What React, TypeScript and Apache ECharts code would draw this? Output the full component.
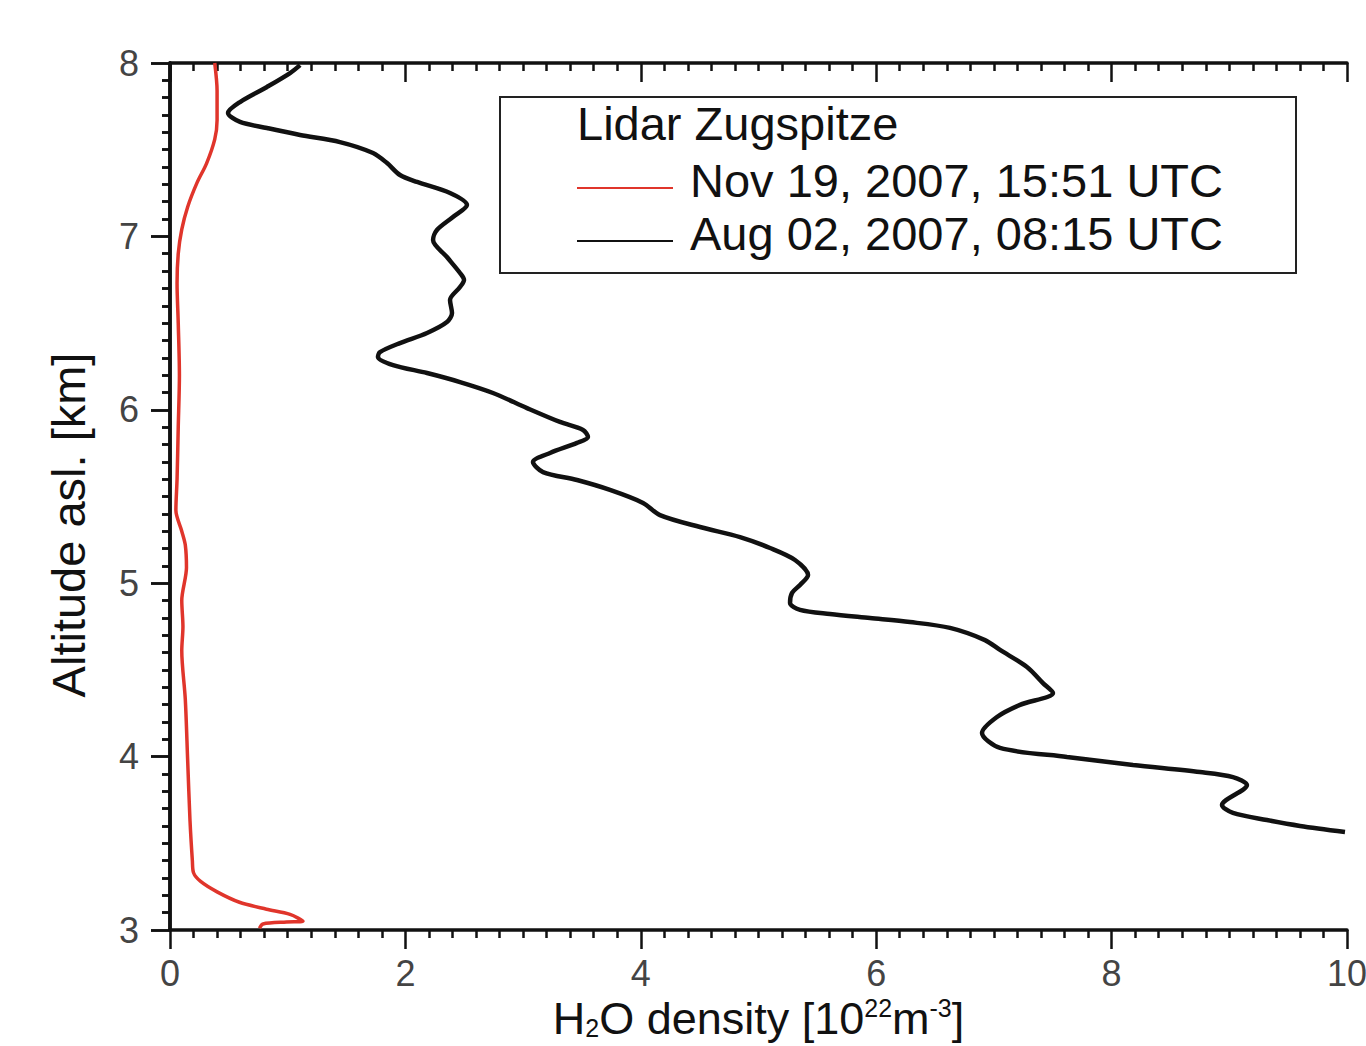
import React, { useEffect, useRef } from "react";
import * as echarts from "echarts";

// H2O density [10^22 m^-3] vs altitude asl [km]
const augDensity = [
  1.105, 1.02, 0.824, 0.595, 0.493, 0.595, 0.824, 1.105, 1.444, 1.725, 1.844, 1.954, 2.099, 2.379, 2.523,
  2.404, 2.268, 2.235, 2.353, 2.464, 2.498, 2.464, 2.379, 2.396, 2.353, 2.184, 1.954, 1.784, 1.767, 1.895,
  2.184, 2.464, 2.744, 3.033, 3.313, 3.509, 3.551, 3.458, 3.229, 3.084, 3.169, 3.458, 3.738, 4.019, 4.163,
  4.503, 4.843, 5.098, 5.31, 5.421, 5.353, 5.285, 5.268, 5.353, 5.607, 5.947, 6.287, 6.627, 6.924, 7.052,
  7.281, 7.417, 7.502, 7.222, 7.026, 6.899, 7.052, 7.621, 8.182, 8.751, 9.031, 9.15, 8.938, 9.031, 9.32,
  9.601, 9.983,
];
const augAltitude = [
  7.988, 7.942, 7.862, 7.775, 7.712, 7.66, 7.625, 7.585, 7.544, 7.481, 7.423, 7.354, 7.314, 7.25, 7.181,
  7.112, 7.037, 6.979, 6.881, 6.789, 6.749, 6.708, 6.633, 6.558, 6.506, 6.443, 6.385, 6.333, 6.305, 6.258,
  6.212, 6.16, 6.097, 6.01, 5.93, 5.884, 5.843, 5.809, 5.751, 5.699, 5.641, 5.595, 5.538, 5.463, 5.393,
  5.324, 5.266, 5.203, 5.134, 5.047, 4.99, 4.944, 4.886, 4.846, 4.822, 4.799, 4.776, 4.742, 4.672, 4.615,
  4.517, 4.424, 4.367, 4.298, 4.228, 4.136, 4.05, 3.998, 3.952, 3.911, 3.882, 3.836, 3.721, 3.675, 3.634,
  3.6, 3.565,
];

const novDensity = [
  0.38, 0.4, 0.4, 0.38, 0.31, 0.23, 0.15, 0.1, 0.07, 0.06, 0.07, 0.08, 0.07, 0.06, 0.05, 0.1, 0.13, 0.14,
  0.1, 0.11, 0.1, 0.13, 0.15, 0.17, 0.19, 0.2, 0.26, 0.4, 0.59, 0.82, 1.02, 1.13, 0.99, 0.79, 0.76,
];
const novAltitude = [
  8.0, 7.84, 7.67, 7.56, 7.42, 7.31, 7.17, 7.04, 6.9, 6.73, 6.5, 6.2, 5.9, 5.6, 5.42, 5.3, 5.22, 5.09,
  4.9, 4.75, 4.61, 4.33, 3.98, 3.63, 3.4, 3.33, 3.28, 3.22, 3.16, 3.12, 3.09, 3.05, 3.046, 3.035, 3.01,
];

const seriesNames = ["Nov 19, 2007, 15:51 UTC", "Aug 02, 2007, 08:15 UTC"];
const legendTitle = "Lidar Zugspitze";
const xTicks = [0, 2, 4, 6, 8, 10];
const yTicks = [3, 4, 5, 6, 7, 8];

const SANS = "'Liberation Sans', Arial, Helvetica, sans-serif";
// legend line drawn near the bottom of its icon box (a tiny dot keeps the box's top)
const LEGEND_ICON = "path://M0,0 L0.1,0 L0.1,0.1 L0,0.1 Z M0,16 L96,16 L96,18 L0,18 Z";

export default function App() {
  const ref = useRef<HTMLDivElement>(null);
  useEffect(() => {
    if (!ref.current) return;
    const chart = echarts.init(ref.current, undefined, { renderer: "svg" });
    const zip = (xs: number[], ys: number[]) => xs.map((x, i) => [x, ys[i]]);
    const axisLine = { show: true, lineStyle: { color: "#111", width: 3.5 } };
    const baseX = {
      type: "value" as const,
      min: xTicks[0],
      max: xTicks[xTicks.length - 1],
      interval: 2,
      splitLine: { show: false },
      axisLine,
      minorTick: { show: true, splitNumber: 10, length: 8, lineStyle: { color: "#111", width: 2.5 } },
      axisTick: { show: true, length: 19, lineStyle: { color: "#111", width: 2.5 } },
    };
    const baseY = {
      type: "value" as const,
      min: yTicks[0],
      max: yTicks[yTicks.length - 1],
      interval: 1,
      splitLine: { show: false },
      axisLine,
      minorTick: { show: true, splitNumber: 10, length: 8, lineStyle: { color: "#111", width: 2.5 } },
      axisTick: { show: true, length: 19, lineStyle: { color: "#111", width: 2.5 } },
    };
    chart.setOption({
      animation: false,
      backgroundColor: "#fff",
      grid: { left: 170, right: 19, top: 63, bottom: 116, containLabel: false, outerBoundsMode: "none" },
      xAxis: [
        {
          ...baseX,
          position: "bottom",
          axisTick: { ...baseX.axisTick, inside: false },
          axisLabel: { show: true, margin: 25, fontSize: 36, color: "#444", fontFamily: SANS },
          name: "H{sub|2}O density [10{sup|22}m{sup|-3}]",
          nameLocation: "middle",
          nameGap: 64,
          nameTextStyle: {
            fontSize: 45,
            color: "#111",
            fontFamily: SANS,
            rich: {
              sub: { fontSize: 25, verticalAlign: "bottom", padding: [16, 0, 0, 0], fontFamily: SANS, color: "#111" },
              sup: { fontSize: 25, verticalAlign: "top", padding: [0, 0, 14, 0], fontFamily: SANS, color: "#111" },
            },
          },
        },
        {
          ...baseX,
          position: "top",
          axisTick: { ...baseX.axisTick, inside: true },
          axisLabel: { show: false },
        },
      ],
      yAxis: [
        {
          ...baseY,
          position: "left",
          axisTick: { ...baseY.axisTick, inside: false },
          axisLabel: { show: true, margin: 31, fontSize: 36, color: "#444", fontFamily: SANS },
          name: "Altitude asl. [km]",
          nameLocation: "middle",
          nameGap: 78,
          nameTextStyle: { fontSize: 47, color: "#111", fontFamily: SANS, padding: [0, 57, 0, 0] },
        },
        {
          ...baseY,
          position: "right",
          axisTick: { ...baseY.axisTick, inside: true },
          axisLabel: { show: false },
        },
      ],
      legend: {
        show: true,
        orient: "vertical",
        left: 572,
        top: 150,
        itemWidth: 96,
        itemHeight: 18,
        itemGap: 3,
        icon: LEGEND_ICON,
        data: seriesNames,
        textStyle: { fontSize: 47, color: "#111", fontFamily: SANS, lineHeight: 50, padding: [0, 0, 0, 12] },
      },
      graphic: [
        {
          type: "rect",
          shape: { x: 500, y: 97, width: 796, height: 176 },
          style: { fill: "none", stroke: "#222", lineWidth: 2 },
          z: 10,
        },
        {
          type: "text",
          x: 577,
          y: 123,
          style: { text: legendTitle, fontSize: 47, fill: "#111", fontFamily: SANS, verticalAlign: "middle" },
          z: 10,
        },
      ],
      series: [
        {
          name: seriesNames[0],
          type: "line",
          data: zip(novDensity, novAltitude),
          symbol: "none",
          smooth: 0.3,
          lineStyle: { color: "#e0352b", width: 3.5 },
          itemStyle: { color: "#e0352b" },
          z: 3,
        },
        {
          name: seriesNames[1],
          type: "line",
          data: zip(augDensity, augAltitude),
          symbol: "none",
          smooth: 0.3,
          lineStyle: { color: "#111", width: 4.5 },
          itemStyle: { color: "#111" },
          z: 2,
        },
      ],
    });
    return () => chart.dispose();
  }, []);
  return (
    <div
      ref={ref}
      style={{ position: "fixed", left: 0, top: 0, width: 1366, height: 1046, background: "#fff" }}
    />
  );
}
